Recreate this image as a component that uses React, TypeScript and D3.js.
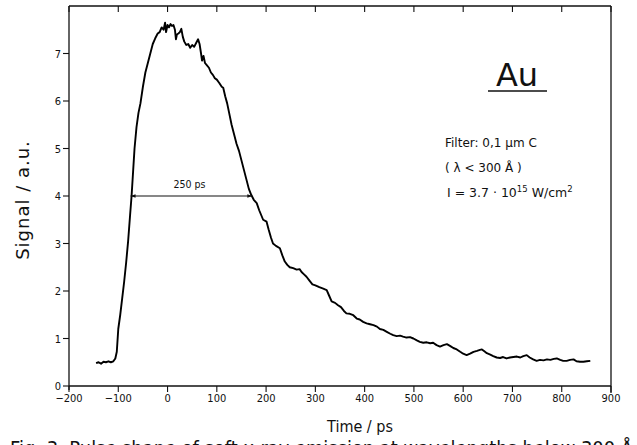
import React from "react";
import * as d3 from "d3";

const timePs = [
  -145, -140, -135, -130, -125, -120, -115, -110, -106, -103, -100, -96, -92, -88, -84, -80, -76, -73, -70, -67,
  -63, -59, -55, -50, -45, -40, -35, -30, -25, -20, -16, -12, -8, -5, -3, 0, 3, 6, 9, 12,
  15, 17, 19, 22, 25, 28, 31, 34, 38, 42, 46, 50, 54, 58, 62, 65, 68, 70, 73, 76,
  80, 84, 88, 92, 96, 100, 105, 110, 113, 117, 121, 125, 130, 135, 140, 145, 150, 155, 160, 165,
  170, 175, 181, 186, 190, 194, 201, 205, 210, 214, 220, 228, 233, 238, 243, 248, 255, 262, 268, 272,
  277, 282, 288, 294, 300, 308, 316, 323, 328, 333, 340, 346, 352, 358, 363, 370, 377, 384, 390, 397,
  404, 411, 418, 425, 431, 438, 445, 452, 458, 465, 472, 478, 485, 492, 499, 506, 512, 519, 526, 533,
  539, 546, 553, 560, 567, 574, 580, 587, 594, 600, 607, 614, 621, 628, 634, 638, 643, 648, 655, 661,
  668, 675, 681, 688, 695, 702, 709, 716, 722, 729, 735, 742, 749, 756, 763, 770, 777, 784, 790, 797,
  803, 810, 817, 824, 830, 837, 844, 851, 858,
];

const signal = [
  0.48, 0.5, 0.47, 0.51, 0.5, 0.52, 0.5, 0.52, 0.58, 0.72, 1.2, 1.5, 1.85, 2.2, 2.6, 3.05, 3.6, 4.0, 4.5, 5.0,
  5.45, 5.75, 5.95, 6.3, 6.6, 6.8, 7.0, 7.2, 7.32, 7.42, 7.45, 7.55, 7.5, 7.65, 7.45, 7.6, 7.55, 7.62, 7.58, 7.6,
  7.5, 7.3, 7.4, 7.42, 7.45, 7.52, 7.35, 7.25, 7.18, 7.2, 7.12, 7.18, 7.14, 7.22, 7.3, 7.2, 7.0, 6.85, 6.95, 6.8,
  6.75, 6.7, 6.6, 6.55, 6.48, 6.45, 6.38, 6.3, 6.28, 6.1, 5.95, 5.75, 5.5, 5.3, 5.1, 4.95, 4.75, 4.55, 4.35, 4.15,
  4.02, 3.92, 3.85, 3.7, 3.6, 3.5, 3.46, 3.3, 3.12, 3.0, 2.95, 2.9, 2.75, 2.62, 2.55, 2.5, 2.48, 2.45, 2.46, 2.4,
  2.35, 2.3, 2.22, 2.14, 2.12, 2.08, 2.05, 2.02, 1.9, 1.78, 1.75, 1.7, 1.66, 1.58, 1.53, 1.52, 1.49, 1.42, 1.4, 1.35,
  1.32, 1.3, 1.28, 1.25, 1.2, 1.18, 1.14, 1.1, 1.07, 1.05, 1.06, 1.04, 1.02, 1.03, 1.0, 0.96, 0.93, 0.91, 0.92, 0.9,
  0.91, 0.86, 0.83, 0.86, 0.88, 0.84, 0.8, 0.77, 0.72, 0.68, 0.65, 0.68, 0.72, 0.74, 0.76, 0.77, 0.73, 0.69, 0.66, 0.63,
  0.6, 0.59, 0.61, 0.58, 0.6, 0.61, 0.62, 0.6, 0.63, 0.65, 0.6, 0.56, 0.53, 0.55, 0.54, 0.56, 0.55, 0.57, 0.58, 0.55,
  0.53, 0.53, 0.55, 0.56, 0.52, 0.51, 0.51, 0.52, 0.53,
];

const xTicks = [-200, -100, 0, 100, 200, 300, 400, 500, 600, 700, 800, 900];
const yTicks = [0, 1, 2, 3, 4, 5, 6, 7];
const fwhmStart = -75;
const fwhmEnd = 172;
const fwhmLevel = 4;
const fwhmLabel = "250 ps";

const FONT_C = "'DejaVu Sans Condensed', 'DejaVu Sans', sans-serif";
const FONT = "'DejaVu Sans', sans-serif";

export default function App() {
  const W = 637;
  const H = 445;
  const x = d3.scaleLinear().domain([-200, 900]).range([69, 611]);
  const y = d3.scaleLinear().domain([0, 8]).range([386, 6]);
  const pts: [number, number][] = timePs.map((t, i) => [t, signal[i]]);
  const line = d3
    .line<[number, number]>()
    .x((d) => x(d[0]))
    .y((d) => y(d[1]));

  const ay = y(fwhmLevel);
  const ax0 = x(fwhmStart);
  const ax1 = x(fwhmEnd);

  return (
    <svg
      width={W}
      height={H}
      style={{ position: "absolute", left: 0, top: 0, background: "#fff" }}
      fontFamily={FONT_C}
    >
      <rect x={0} y={0} width={W} height={H} fill="#fff" />
      {/* frame */}
      <line x1={x(-200)} x2={x(900)} y1={y(8)} y2={y(8)} stroke="#111" strokeWidth={1.3} />
      <line x1={x(900)} x2={x(900)} y1={y(8)} y2={y(0) + 7} stroke="#111" strokeWidth={1.3} />
      <line x1={x(-200)} x2={x(900)} y1={y(0)} y2={y(0)} stroke="#111" strokeWidth={1.3} />
      <line x1={x(-200)} x2={x(-200)} y1={y(8)} y2={y(0) + 4} stroke="#111" strokeWidth={1.3} />

      {/* x ticks */}
      {xTicks.map((t) => (
        <g key={"xt" + t}>
          <line x1={x(t)} x2={x(t)} y1={y(0)} y2={y(0) + 6} stroke="#111" strokeWidth={1.1} />
          <line x1={x(t)} x2={x(t)} y1={y(8)} y2={y(8) + 6} stroke="#111" strokeWidth={1.1} />
          <text x={x(t)} y={y(0) + 16} fontSize={11} textAnchor="middle" fill="#111">
            {t < 0 ? "\u2212" + Math.abs(t) : t}
          </text>
        </g>
      ))}

      {/* y ticks */}
      {yTicks.map((v) => (
        <g key={"yt" + v}>
          <line x1={x(-200) - 6} x2={x(-200)} y1={y(v)} y2={y(v)} stroke="#111" strokeWidth={1.1} />
          <text x={x(-200) - 8} y={y(v) + 4} fontSize={11} textAnchor="end" fill="#111">
            {v}
          </text>
        </g>
      ))}

      {/* axis titles */}
      <text x={360} y={432} fontSize={16} textAnchor="middle" fill="#111">
        Time / ps
      </text>
      <text
        transform={`translate(29, 200) rotate(-90)`}
        fontSize={18}
        fontFamily={FONT}
        letterSpacing={1}
        textAnchor="middle"
        fill="#111"
      >
        Signal / a.u.
      </text>

      {/* data */}
      <path d={line(pts) || ""} fill="none" stroke="#000" strokeWidth={1.9} strokeLinejoin="round" />

      {/* FWHM arrow */}
      <defs>
        <marker id="ah" viewBox="0 0 10 10" refX={10} refY={5} markerWidth={10} markerHeight={5} orient="auto-start-reverse" markerUnits="userSpaceOnUse">
          <path d="M0,1.5 L10,5 L0,8.5 z" fill="#111" />
        </marker>
      </defs>
      <line x1={ax0} x2={ax1} y1={ay} y2={ay} stroke="#111" strokeWidth={1.2} markerStart="url(#ah)" markerEnd="url(#ah)" />
      <text x={(ax0 + ax1) / 2 - 2} y={ay - 8} fontSize={10.5} textAnchor="middle" fill="#111">
        {fwhmLabel}
      </text>

      {/* annotations */}
      <text x={517} y={86} fontSize={32} fontFamily={FONT} textAnchor="middle" fill="#111">
        Au
      </text>
      <line x1={488} x2={547} y1={91} y2={91} stroke="#111" strokeWidth={1.6} />
      <text x={445} y={147} fontSize={12} fontFamily={FONT} fill="#111">
        Filter:  0,1 µm  C
      </text>
      <text x={445} y={172} fontSize={12} fontFamily={FONT} fill="#111">
        ( λ &lt; 300 Å )
      </text>
      <text x={447} y={197} fontSize={12.5} fontFamily={FONT} fill="#111">
        I = 3.7 · 10
        <tspan dy={-5} fontSize={8.5}>15</tspan>
        <tspan dy={5} dx={4}>W/cm</tspan>
        <tspan dy={-5} fontSize={8.5}>2</tspan>
      </text>

      {/* caption (cut off at the bottom) */}
      <text x={10} y={455} fontSize={19} fontFamily={FONT} fill="#111" textLength={623} lengthAdjust="spacingAndGlyphs">
        Fig. 3. Pulse shape of soft x-ray emission at wavelengths below 300 Å
      </text>
    </svg>
  );
}
